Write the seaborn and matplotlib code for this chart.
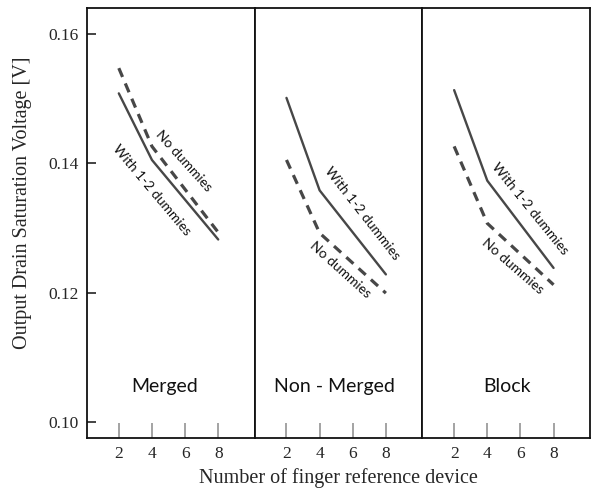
import numpy as np
import pandas as pd
import matplotlib
matplotlib.use("Agg")
import matplotlib.pyplot as plt
import seaborn as sns

# Finger counts of the reference device
fingers = [2, 4, 8]

# Output drain saturation voltage [V] per layout style
merged_with_dummies = [0.1508, 0.1405, 0.1282]
merged_no_dummies = [0.1547, 0.1426, 0.1293]
nonmerged_with_dummies = [0.1501, 0.1358, 0.1228]
nonmerged_no_dummies = [0.1405, 0.1292, 0.1199]
block_with_dummies = [0.1513, 0.1373, 0.1238]
block_no_dummies = [0.1426, 0.1307, 0.1212]

panel_names = ["Merged", "Non - Merged", "Block"]
series_with = "With 1-2 dummies"
series_without = "No dummies"

x_ticks = [2, 4, 6, 8]
y_ticks = [0.10, 0.12, 0.14, 0.16]
y_tick_labels = ["0.10", "0.12", "0.14", "0.16"]

x_label = "Number of finger reference device"
y_label = "Output Drain Saturation Voltage [V]"

sns.set_theme(style="white")
plt.rcParams["font.family"] = ["Liberation Serif", "DejaVu Serif"]

panels = [
    (merged_with_dummies, merged_no_dummies),
    (nonmerged_with_dummies, nonmerged_no_dummies),
    (block_with_dummies, block_no_dummies),
]

# placement of in-panel annotations (data coords, screen angle)
title_pos = [(4.79, 0.1055), (4.87, 0.1055), (5.17, 0.1055)]
with_pos = [(4.00, 0.1359, -50), (6.60, 0.1322, -52), (6.56, 0.1329, -51)]
without_pos = [(5.93, 0.1404, -48), (5.27, 0.1235, -42), (5.53, 0.1241, -41)]

fig, axes = plt.subplots(1, 3, figsize=(5.91, 4.96), dpi=100, sharey=True)
fig.subplots_adjust(left=87 / 591, right=590 / 591, top=1 - 8 / 496,
                    bottom=1 - 438 / 496, wspace=0)

line_color = "#474747"
sans = ["Lato", "DejaVu Sans"]

for i, (ax, (with_vals, without_vals)) in enumerate(zip(axes, panels)):
    df = pd.DataFrame({
        "fingers": fingers * 2,
        "voltage": with_vals + without_vals,
        "series": [series_with] * 3 + [series_without] * 3,
    })
    sns.lineplot(data=df[df.series == series_with], x="fingers", y="voltage",
                 ax=ax, color=line_color, lw=1.7, legend=False)
    sns.lineplot(data=df[df.series == series_without], x="fingers", y="voltage",
                 ax=ax, color=line_color, lw=2.3, ls=(0, (3.0, 2.2)),
                 legend=False)

    ax.set_xlim(0.08, 10.2)
    ax.set_ylim(0.0975, 0.1640)
    ax.set_xticks(x_ticks)
    ax.set_xticklabels([str(t) for t in x_ticks], fontsize=12.5)
    ax.tick_params(axis="x", direction="in", length=11, width=1.1,
                   color="#8a8a8a", pad=6, bottom=True)
    ax.set_xlabel("")
    ax.set_ylabel("")
    for s in ax.spines.values():
        s.set_color("#111111")
        s.set_linewidth(1.3)

    tx, ty = title_pos[i]
    ax.text(tx, ty, panel_names[i], ha="center", va="center",
            fontsize=14, family=sans, color="#111111")
    wx, wy, wa = with_pos[i]
    ax.text(wx, wy, series_with, ha="center", va="center", rotation=wa,
            rotation_mode="anchor", fontsize=10, family=sans, color="#111111")
    nx, ny, na = without_pos[i]
    ax.text(nx, ny, series_without, ha="center", va="center", rotation=na,
            rotation_mode="anchor", fontsize=10, family=sans, color="#111111")

    if i == 0:
        ax.set_yticks(y_ticks)
        ax.set_yticklabels(y_tick_labels, fontsize=12.5)
        ax.tick_params(axis="y", direction="in", length=6.5, width=1.1,
                       color="#111111", pad=6, left=True)
    else:
        ax.tick_params(axis="y", left=False)

axes[0].set_ylabel(y_label, fontsize=14.5)
axes[0].yaxis.set_label_coords(-0.33, 0.547)

fig.text(0.572, 1 - 478 / 496, x_label, ha="center", va="center",
         fontsize=14.5)

fig.savefig("out.png", dpi=100)
